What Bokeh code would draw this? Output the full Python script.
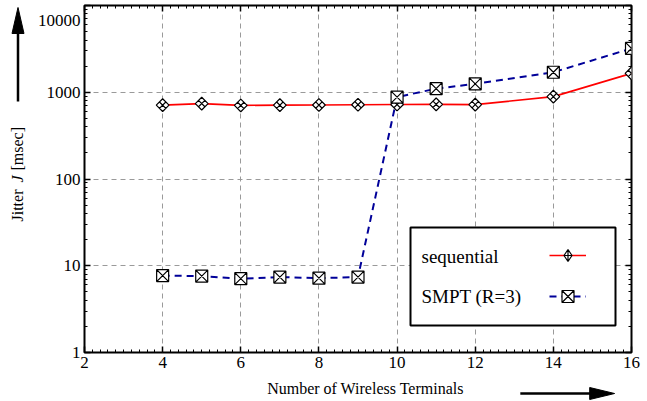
import numpy as np
from bokeh.plotting import figure
from bokeh.layouts import row, column
from bokeh.models import (LogAxis, LinearAxis, FixedTicker, LogTicker, NumeralTickFormatter,
                          CustomJSTickFormatter, Label, PolyAnnotation, BoxAnnotation, Legend,
                          LegendItem, Range1d, Arrow)
from bokeh.embed import file_html
from bokeh.resources import INLINE

terminals_seq = [4, 5, 6, 7, 8, 9, 10, 11, 12, 14, 16]
jitter_seq = [710, 740, 705, 710, 712, 718, 722, 725, 720, 890, 1650]
terminals_smpt = [4, 5, 6, 7, 8, 9, 10, 11, 12, 14, 16]
jitter_smpt = [7.7, 7.6, 7.1, 7.4, 7.2, 7.4, 880, 1100, 1250, 1700, 3200]
x_ticks = [2, 4, 6, 8, 10, 12, 14, 16]
y_ticks = [1, 10, 100, 1000, 10000]
series_labels = ["sequential", "SMPT (R=3)"]
x_title = "Number of Wireless Terminals"
y_title = ["Jitter", "J", "[msec]"]

SERIF = "Liberation Serif"
W, H = 647, 401
LW = 32            # left strip (y title + arrow)
BH = 25            # bottom strip (x title + arrow)
FL, FR, FT, FB = 84, 631, 5, 352   # frame in page pixels

def strip(width, height, xr, yr):
    f = figure(width=width, height=height, x_range=xr, y_range=yr, output_backend="svg",
               toolbar_location=None, min_border=0, outline_line_color=None)
    f.axis.visible = False
    f.grid.visible = False
    f.background_fill_color = "white"
    f.border_fill_color = "white"
    return f

# ---------------- main plot ----------------
p = figure(width=W - LW, height=H - BH, y_axis_type="log", output_backend="svg",
           toolbar_location=None, x_range=Range1d(2, 16), y_range=Range1d(1, 10000),
           min_border_left=FL - LW, min_border_right=W - FR, min_border_top=FT,
           min_border_bottom=H - BH - FB)
p.outline_line_color = "black"
p.outline_line_width = 2
p.background_fill_color = "white"
p.border_fill_color = "white"

xminor = list(np.round(np.arange(2, 16.001, 0.2), 3))
xt = FixedTicker(ticks=x_ticks, minor_ticks=xminor)
yt = LogTicker(num_minor_ticks=10)

def style_axis(ax, labels=True):
    ax.major_tick_in = 6
    ax.major_tick_out = 0
    ax.minor_tick_in = 3
    ax.minor_tick_out = 0
    ax.major_tick_line_color = "black"
    ax.minor_tick_line_color = "black"
    ax.major_tick_line_width = 1.5
    ax.axis_line_color = None
    ax.major_label_text_font = SERIF
    ax.major_label_text_font_size = "17px"
    ax.major_label_text_color = "black"
    if labels:
        ax.major_label_standoff = 4
    else:
        ax.formatter = CustomJSTickFormatter(code="return ''")
        ax.major_label_standoff = 0

p.xaxis.ticker = xt
p.yaxis.ticker = yt
p.yaxis.formatter = NumeralTickFormatter(format="0")
style_axis(p.xaxis[0])
style_axis(p.yaxis[0])
p.yaxis[0].major_label_overrides = {10000: "\n" + str(y_ticks[-1])}
p.yaxis[0].major_label_text_line_height = 0.55

ra = LogAxis(ticker=LogTicker(num_minor_ticks=10))
style_axis(ra, labels=False)
p.add_layout(ra, "right")
ta = LinearAxis(ticker=FixedTicker(ticks=x_ticks, minor_ticks=xminor))
style_axis(ta, labels=False)
p.add_layout(ta, "above")

p.xgrid.ticker = xt
p.ygrid.ticker = yt
for g in (p.xgrid[0], p.ygrid[0]):
    g.grid_line_color = "#9a9a9a"
    g.grid_line_dash = "5 4"
    g.grid_line_width = 1

l1 = p.line(terminals_seq, jitter_seq, line_color="#ff0000", line_width=1.6)
l2 = p.line(terminals_smpt, jitter_smpt, line_color="#000099", line_width=2, line_dash="7 5")
m1 = p.scatter(terminals_seq, jitter_seq, marker="square_cross", angle=np.pi / 4, size=9,
               fill_color="white", line_color="black", line_width=1.2)
m2 = p.scatter(terminals_smpt, jitter_smpt, marker="square_x", size=12,
               fill_color="white", line_color="black", line_width=1.2)
# legend sample for the diamond (legend ignores marker angle); zero size in the plot itself
m1_key = p.scatter(terminals_seq, jitter_seq, marker="diamond_cross", size=0,
                   fill_color="white", line_color="black", line_width=1.2)

# legend: box + labels on the left, samples on the right (frame-relative screen units)
box = BoxAnnotation(left=410 - FL, right=615 - FL, top=FB - 227, bottom=FB - 325,
                    left_units="screen", right_units="screen", top_units="screen",
                    bottom_units="screen", fill_color="white", fill_alpha=1,
                    line_color="black", line_alpha=1, line_width=2, level="annotation")
p.add_layout(box)
for lab, yy in zip(series_labels, [256, 296]):
    p.add_layout(Label(x=421 - FL, y=FB - yy, x_units="screen", y_units="screen", text=lab,
                       text_font=SERIF, text_font_size="19px", text_baseline="middle",
                       text_color="black"))
leg = Legend(items=[LegendItem(label=" ", renderers=[l1, m1_key]),
                    LegendItem(label=" ", renderers=[l2, m2])],
             location=(549 - FL, FB - 311), glyph_width=37, glyph_height=30, spacing=11,
             padding=0, margin=0, label_standoff=0, label_text_font_size="10px",
             border_line_color=None, background_fill_alpha=0, label_width=1)
p.add_layout(leg, "center")

# ---------------- left strip: y title + arrow (page pixel coords) ----------------
left = strip(LW, H, Range1d(0, LW), Range1d(H, 0))
for txt, y0, style in zip(y_title, [221, 182, 170], ["normal", "italic", "normal"]):
    left.add_layout(Label(x=17, y=y0, text=txt, angle=np.pi / 2, text_font=SERIF,
                          text_font_size="16px", text_font_style=style,
                          text_baseline="middle", text_color="black"))
left.add_layout(Arrow(x_start=17.5, y_start=101, x_end=17.5, y_end=31, end=None,
                      line_width=2.5, line_color="black"))
left.add_layout(PolyAnnotation(xs=[11.5, 23.5, 17.5], ys=[33, 33, 7], fill_color="black",
                               fill_alpha=1, line_color="black", line_alpha=1, line_width=1))

# ---------------- bottom strip: x title + arrow ----------------
bottom = strip(W - LW, BH, Range1d(LW, W), Range1d(H, H - BH))
bottom.add_layout(Label(x=348, y=388, text=x_title, text_font=SERIF, text_font_size="16px",
                        text_align="center", text_baseline="middle", text_color="black"))
bottom.add_layout(Arrow(x_start=522, y_start=393, x_end=602, y_end=393, end=None,
                        line_width=2.5, line_color="black"))
bottom.add_layout(PolyAnnotation(xs=[600, 600, 628], ys=[387, 399, 393], fill_color="black",
                                 fill_alpha=1, line_color="black", line_alpha=1, line_width=1))

layout = row(left, column(p, bottom, spacing=0), spacing=0)
open("out.html", "w").write(file_html(layout, INLINE))
